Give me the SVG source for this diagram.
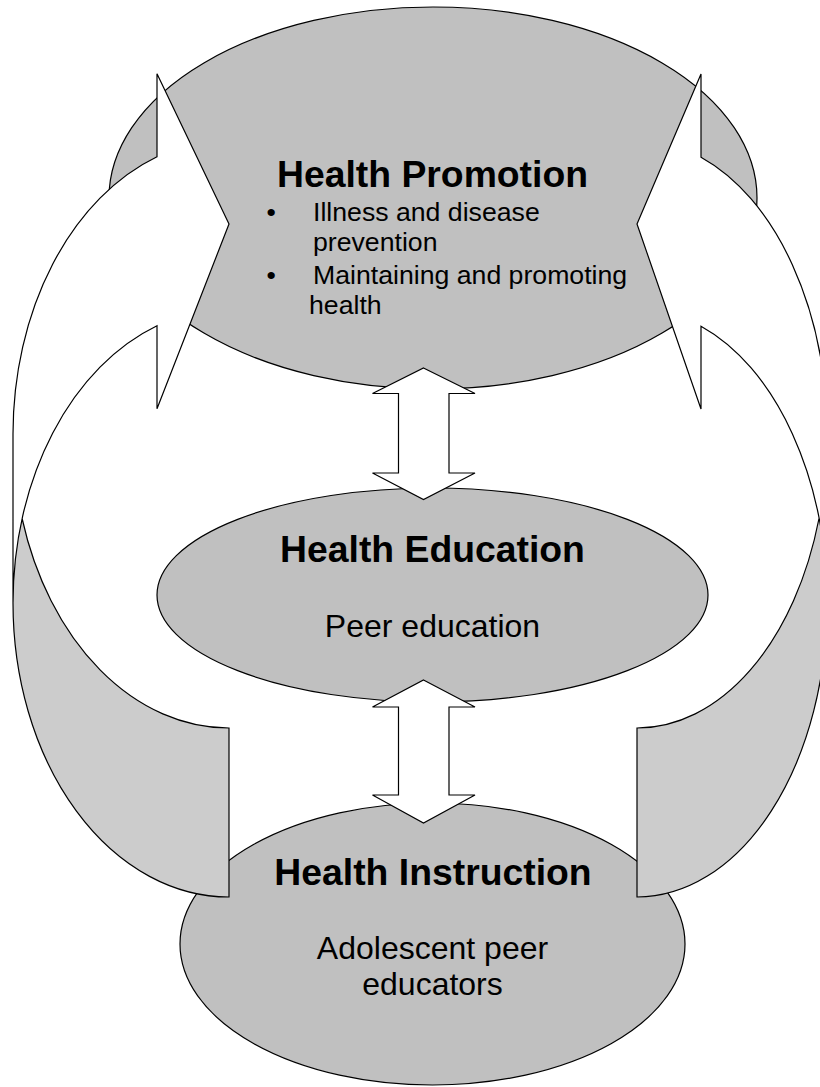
<svg xmlns="http://www.w3.org/2000/svg" width="820" height="1087" viewBox="0 0 820 1087">
<style>
.node{fill:#c0c0c0;stroke:#000;stroke-width:1.2}
.front{fill:#fff;stroke:none}
.back{fill:#cccccc;stroke:none}
.outline{fill:none;stroke:#000;stroke-width:1.2;stroke-linejoin:miter}
.dbl{fill:#fff;stroke:#000;stroke-width:1.2}
.title{font-family:"Liberation Sans",Arial,sans-serif;font-weight:bold;font-size:37.33px;fill:#000;text-anchor:middle}
.body{font-family:"Liberation Sans",Arial,sans-serif;font-size:26.67px;fill:#000}
.sub{font-family:"Liberation Sans",Arial,sans-serif;font-size:32px;fill:#000;text-anchor:middle}
</style>
<rect x="0" y="0" width="820" height="1087" fill="#fff"/>
<g id="health-promotion">
<ellipse class="node" cx="433" cy="198" rx="324" ry="191"/>
<text class="title" x="432.5" y="187">Health Promotion</text>
<text class="body" x="266.5" y="221">•</text>
<text class="body" x="313" y="221">Illness and disease</text>
<text class="body" x="313" y="251">prevention</text>
<text class="body" x="266.5" y="284">•</text>
<text class="body" x="313" y="284">Maintaining and promoting</text>
<text class="body" x="309" y="314">health</text>
</g>
<g id="health-education">
<ellipse class="node" cx="432.5" cy="595" rx="275.5" ry="107"/>
<text class="title" x="432.5" y="562">Health Education</text>
<text class="sub" x="432.5" y="637">Peer education</text>
</g>
<g id="health-instruction">
<ellipse class="node" cx="432.5" cy="944" rx="252.5" ry="141"/>
<text class="title" x="433" y="885">Health Instruction</text>
<text class="sub" x="432.5" y="959">Adolescent peer</text>
<text class="sub" x="432.5" y="995">educators</text>
</g>
<g id="connectors">
<polygon class="dbl" points="423.5,368 475,393.5 449,393.5 449,473 475,473 423.5,499.5 372.5,473 398.5,473 398.5,393.5 372.5,393.5"/>
<polygon class="dbl" points="423.5,680 475,707 449,707 449,795 475,795 423.5,823 372.5,795 398.5,795 398.5,707 372.5,707"/>
<g id="curved-left">
<path class="front" d="M13,603 A216,294 0 0 1 157,325.8 L157,408.8 L229,224 L157,73.8 L157,156.8 A216,294 0 0 0 13,434 Z"/>
<path class="back" d="M229,728 A216,294 0 0 1 22.1,518.5 A216,294 0 0 0 229,897 Z"/>
<path class="outline" d="M13,603 A216,294 0 0 1 157,325.8 L157,408.8 L229,224 L157,73.8 L157,156.8 A216,294 0 0 0 13,434 L13,603 A216,294 0 0 0 229,897 L229,728 A216,294 0 0 1 22.1,518.5"/>
</g>
<g id="curved-right">
<path class="front" d="M827,603 A190,294 0 0 0 701,326.2 L701,409 L637,224 L701,74 L701,157.2 A190,294 0 0 1 827,434 Z"/>
<path class="back" d="M637,728 A190,294 0 0 0 819,518.5 A190,294 0 0 1 637,897 Z"/>
<path class="outline" d="M827,603 A190,294 0 0 0 701,326.2 L701,409 L637,224 L701,74 L701,157.2 A190,294 0 0 1 827,434 L827,603 A190,294 0 0 1 637,897 L637,728 A190,294 0 0 0 819,518.5"/>
</g>
</g>
</svg>
